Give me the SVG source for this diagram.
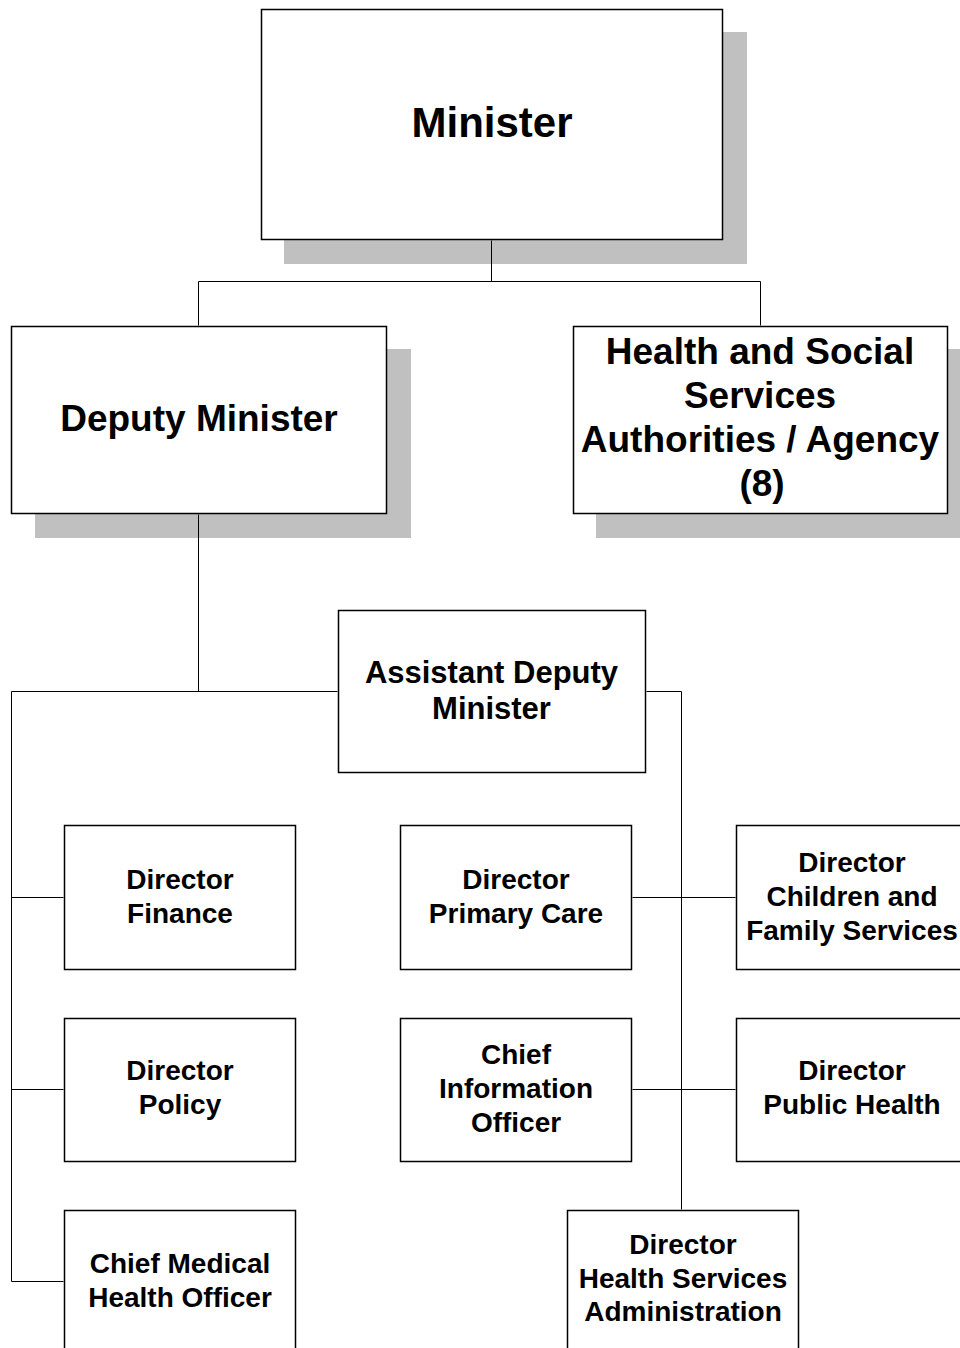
<svg xmlns="http://www.w3.org/2000/svg" width="960" height="1348" viewBox="0 0 960 1348">
<style>
.box{fill:#fff;stroke:#000;stroke-width:1.5}
.sh{fill:#c0c0c0}
.ln{fill:none;stroke:#000;stroke-width:1}
text{font-family:"Liberation Sans",Arial,sans-serif;font-weight:bold;fill:#000;text-anchor:middle}
.t42{font-size:42px}
.t37{font-size:37px}
.t31{font-size:31px}
.t28{font-size:28px}
</style>
<rect width="960" height="1348" fill="#fff"/>
<g id="minister">
<rect class="sh" x="284" y="32" width="463" height="232"/>
<rect class="box" x="261.5" y="9.5" width="461" height="230"/>
<text class="t42" x="492" y="137">Minister</text>
</g>
<g id="deputy-minister">
<rect class="sh" x="35" y="349" width="376" height="189"/>
<rect class="box" x="11.5" y="326.5" width="375" height="187"/>
<text class="t37" x="199" y="431">Deputy Minister</text>
</g>
<g id="hss-authorities">
<rect class="sh" x="596" y="349" width="380" height="189"/>
<rect class="box" x="573.5" y="326.5" width="374" height="187"/>
<text class="t37" x="760" y="364">Health and Social</text>
<text class="t37" x="760" y="408">Services</text>
<text class="t37" x="760" y="452">Authorities / Agency</text>
<text class="t37" x="762" y="496">(8)</text>
</g>
<g id="assistant-deputy-minister">
<rect class="box" x="338.5" y="610.5" width="307" height="162"/>
<text class="t31" x="491.5" y="683">Assistant Deputy</text>
<text class="t31" x="491.5" y="719">Minister</text>
</g>
<g id="director-finance">
<rect class="box" x="64.5" y="825.5" width="231" height="144"/>
<text class="t28" x="180" y="889">Director</text>
<text class="t28" x="180" y="923">Finance</text>
</g>
<g id="director-primary-care">
<rect class="box" x="400.5" y="825.5" width="231" height="144"/>
<text class="t28" x="516" y="889">Director</text>
<text class="t28" x="516" y="923">Primary Care</text>
</g>
<g id="director-children-family">
<rect class="box" x="736.5" y="825.5" width="231" height="144"/>
<text class="t28" x="852" y="872">Director</text>
<text class="t28" x="852" y="906">Children and</text>
<text class="t28" x="852" y="940">Family Services</text>
</g>
<g id="director-policy">
<rect class="box" x="64.5" y="1018.5" width="231" height="143"/>
<text class="t28" x="180" y="1080">Director</text>
<text class="t28" x="180" y="1114">Policy</text>
</g>
<g id="chief-information-officer">
<rect class="box" x="400.5" y="1018.5" width="231" height="143"/>
<text class="t28" x="516" y="1064">Chief</text>
<text class="t28" x="516" y="1098">Information</text>
<text class="t28" x="516" y="1132">Officer</text>
</g>
<g id="director-public-health">
<rect class="box" x="736.5" y="1018.5" width="231" height="143"/>
<text class="t28" x="852" y="1080">Director</text>
<text class="t28" x="852" y="1114">Public Health</text>
</g>
<g id="chief-medical-health-officer">
<rect class="box" x="64.5" y="1210.5" width="231" height="150"/>
<text class="t28" x="180" y="1273">Chief Medical</text>
<text class="t28" x="180" y="1307">Health Officer</text>
</g>
<g id="director-health-services-admin">
<rect class="box" x="567.5" y="1210.5" width="231" height="150"/>
<text class="t28" x="683" y="1254">Director</text>
<text class="t28" x="683" y="1288">Health Services</text>
<text class="t28" x="683" y="1321">Administration</text>
</g>
<g id="connectors">
<path class="ln" d="M491.5 240.5V281.5M198.5 281.5H760.5M198.5 281.5V325.5M760.5 281.5V325.5"/>
<path class="ln" d="M198.5 514.5V691.5M11.5 691.5H337.5M646.5 691.5H681.5M11.5 691.5V1281.5M681.5 691.5V1209.5"/>
<path class="ln" d="M11.5 897.5H63.5M11.5 1089.5H63.5M11.5 1281.5H63.5M632.5 897.5H735.5M632.5 1089.5H735.5"/>
</g>
</svg>
